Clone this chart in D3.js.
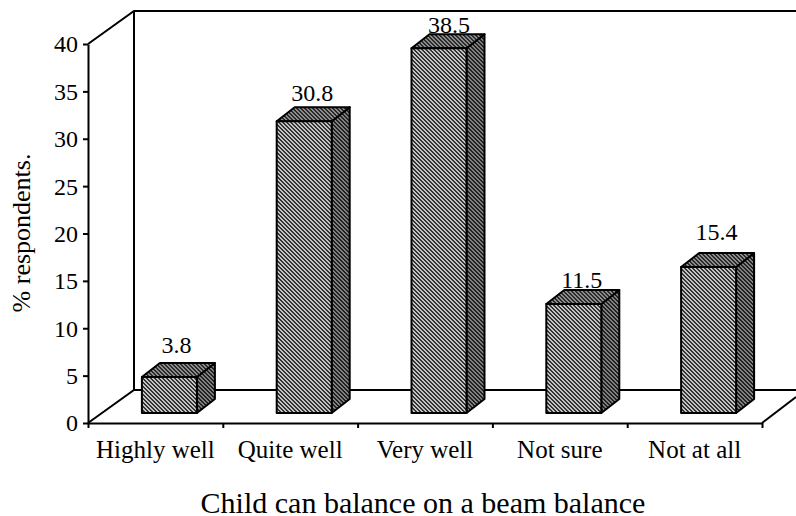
<!DOCTYPE html>
<html lang="en">
  <head>
    <meta charset="utf-8">
    <title>Child can balance on a beam balance</title>
    <script src="https://cdn.jsdelivr.net/npm/d3@7"></script>
    <style>
      html, body { margin: 0; padding: 0; background: #fff; }
      svg { display: block; }
      text { font-family: "Liberation Serif", serif; fill: #000; }
      .axis path, .axis line, .frame { stroke: #000; stroke-width: 2; fill: none; }
      .axis text { font-size: 24px; font-family: "Liberation Serif", serif; }
      .labels text { font-size: 25px; }
      .bar { stroke: #000; stroke-width: 2; stroke-linejoin: round; }
    </style>
  </head>
  <body>
    <script>
      var categories = ["Highly well", "Quite well", "Very well", "Not sure", "Not at all"];
      var values = [3.8, 30.8, 38.5, 11.5, 15.4];
      var yTicks = [0, 5, 10, 15, 20, 25, 30, 35, 40];

      var w = 796, h = 516;
      var plotLeft = 88, plotRight = 762, plotBottom = 423, plotTop = 44;
      // offset of the back wall from the front axes
      var wallX = 46, wallY = 33;
      // bars stand a bit inside the floor
      var barDx = 14, barDy = 10, depthX = 18, depthY = 14, barW = 55;
      // the value labels do not sit at one fixed height above the bars
      var labelLift = [10, 6, 1, 2, 13];
      var labelShift = [7, 8, 10, 8, 8];

      var svg = d3.select("body").append("svg").attr("width", w).attr("height", h);

      // stair-step hatch, one pixel shift per row
      function hatch(id, ink, paper, run) {
        var p = svg.append("pattern").attr("id", id)
          .attr("patternUnits", "userSpaceOnUse")
          .attr("width", 4).attr("height", 4);
        p.append("rect").attr("width", 4).attr("height", 4).attr("fill", paper);
        d3.range(4).forEach(function (row) {
          d3.range(run).forEach(function (c) {
            p.append("rect")
              .attr("x", (row + c) % 4).attr("y", row)
              .attr("width", 1).attr("height", 1)
              .attr("fill", ink)
              .attr("shape-rendering", "crispEdges");
          });
        });
      }
      hatch("front", "#333", "#c4c4c4", 2);
      hatch("topFace", "#2a2a2a", "#8c8c8c", 2);
      hatch("side", "#222", "#808080", 2);

      var x = d3.scaleBand().domain(categories).range([plotLeft, plotRight]);
      var xEdges = d3.scaleLinear().domain([0, categories.length]).range([plotLeft, plotRight]);
      var y = d3.scaleLinear().domain([0, 40]).range([plotBottom, plotTop]);

      // walls and floor
      var backX = plotLeft + wallX;
      var floorY = plotBottom - wallY;
      var topY = plotTop - wallY;
      svg.append("path").attr("class", "frame")
        .attr("d", "M" + plotLeft + "," + plotTop + "L" + backX + "," + topY + "L" + w + "," + topY);
      svg.append("path").attr("class", "frame")
        .attr("d", "M" + backX + "," + topY + "V" + floorY);
      svg.append("path").attr("class", "frame")
        .attr("d", "M" + plotLeft + "," + plotBottom + "L" + backX + "," + floorY + "H" + w);
      svg.append("path").attr("class", "frame")
        .attr("d", "M" + plotRight + "," + plotBottom + "L" + w + "," + (plotBottom - 26));

      // axes
      svg.append("g").attr("class", "axis")
        .attr("transform", "translate(" + plotLeft + ",0)")
        .call(d3.axisLeft(y).tickValues(yTicks).tickSize(5).tickSizeOuter(0).tickPadding(5))
        .call(function (g) { g.selectAll("text").attr("dy", "0.33em"); });

      svg.append("g").attr("class", "axis")
        .attr("transform", "translate(0," + plotBottom + ")")
        .call(d3.axisBottom(xEdges).tickValues(d3.range(categories.length + 1)).tickFormat("").tickSize(5).tickSizeOuter(0));

      svg.append("g").attr("class", "axis labels")
        .attr("transform", "translate(0," + plotBottom + ")")
        .call(d3.axisBottom(x).tickSize(0).tickPadding(17))
        .call(function (g) { g.select("path").remove(); });

      // bars, each one front + top + side
      var bars = svg.selectAll(".barGroup")
        .data(values)
        .enter()
        .append("g")
        .attr("class", "barGroup");

      function barLeft(i) { return x(categories[i]) + (x.bandwidth() - barW) / 2 + barDx; }
      function barTop(d) { return y(d) - barDy; }
      var barBase = y(0) - barDy;

      bars.append("path").attr("class", "bar").attr("fill", "url(#side)")
        .attr("d", function (d, i) {
          var r = barLeft(i) + barW;
          return "M" + r + "," + barTop(d) + "l" + depthX + "," + (-depthY) + "V" + (barBase - depthY) + "L" + r + "," + barBase + "Z";
        });
      bars.append("path").attr("class", "bar").attr("fill", "url(#topFace)")
        .attr("d", function (d, i) {
          var l = barLeft(i);
          return "M" + l + "," + barTop(d) + "l" + depthX + "," + (-depthY) + "h" + barW + "l" + (-depthX) + "," + depthY + "Z";
        });
      bars.append("rect").attr("class", "bar").attr("fill", "url(#front)")
        .attr("x", function (d, i) { return barLeft(i); })
        .attr("y", barTop)
        .attr("width", barW)
        .attr("height", function (d) { return barBase - barTop(d); });

      bars.append("text")
        .attr("x", function (d, i) { return barLeft(i) + barW / 2 + labelShift[i]; })
        .attr("y", function (d, i) { return barTop(d) - depthY - labelLift[i]; })
        .attr("text-anchor", "middle")
        .attr("font-size", 24)
        .text(function (d) { return d; });

      svg.append("text")
        .attr("transform", "translate(30,233) rotate(-90)")
        .attr("text-anchor", "middle")
        .attr("font-size", 26)
        .text("% respondents.");

      svg.append("text")
        .attr("x", 423)
        .attr("y", 513)
        .attr("text-anchor", "middle")
        .attr("font-size", 30)
        .text("Child can balance on a beam balance");
    </script>
  </body>
</html>
